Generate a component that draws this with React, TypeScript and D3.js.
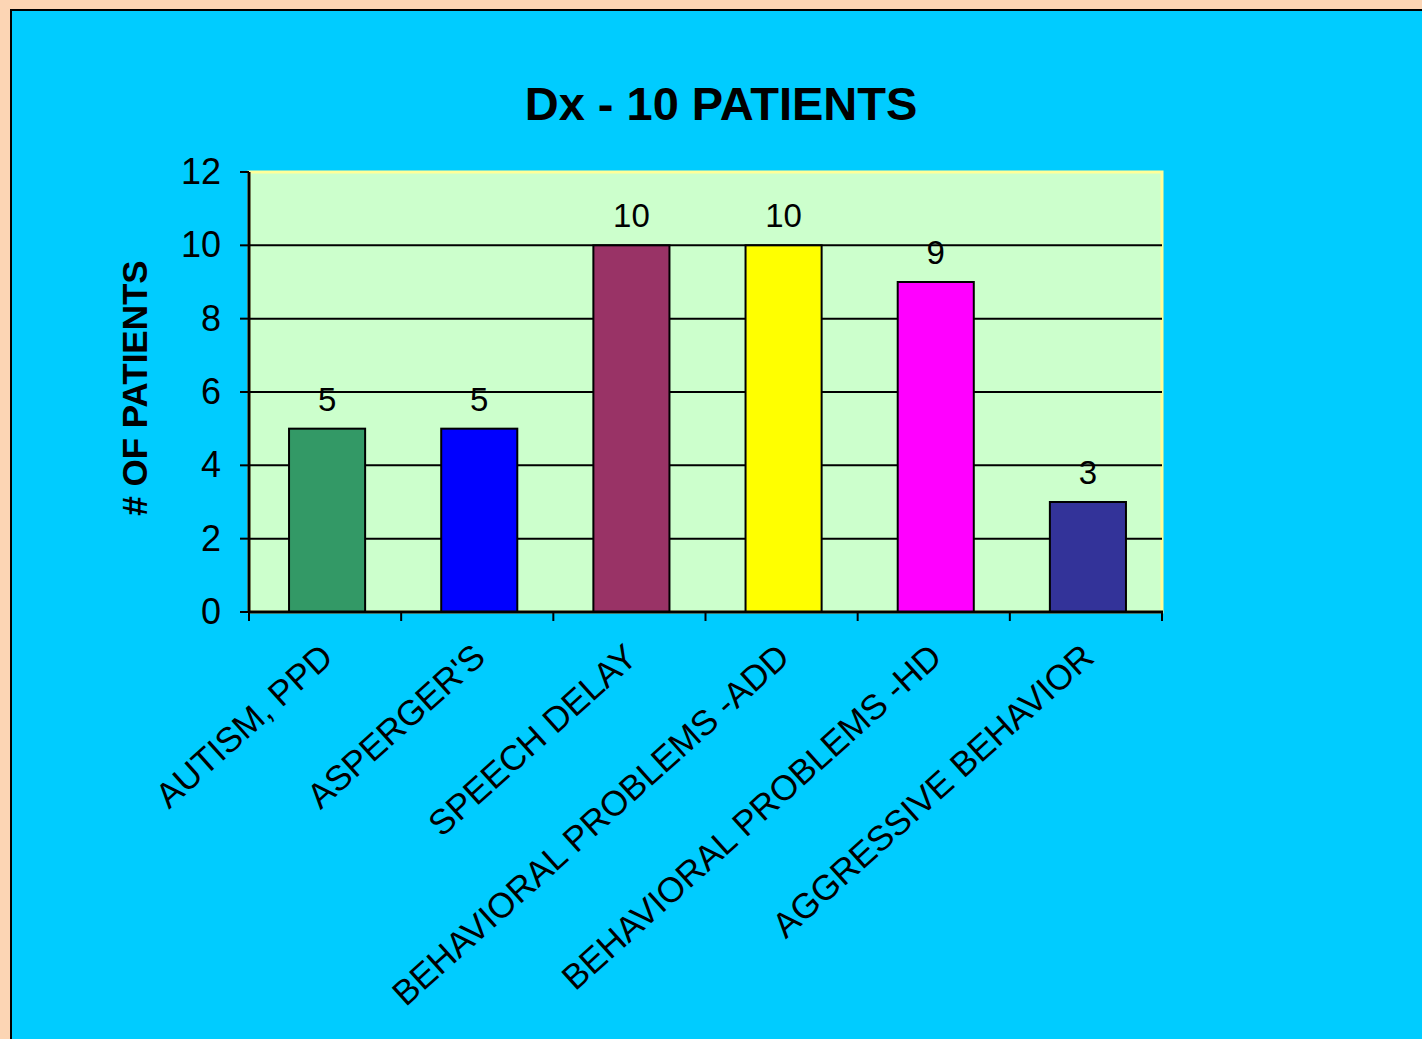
import React from 'react';
import * as d3 from 'd3';

// Chart data
const categories = [
  'AUTISM, PPD',
  "ASPERGER'S",
  'SPEECH DELAY',
  'BEHAVIORAL PROBLEMS -ADD',
  'BEHAVIORAL PROBLEMS -HD',
  'AGGRESSIVE BEHAVIOR',
];
const patientCounts = [5, 5, 10, 10, 9, 3];
const barColors = ['#339966', '#0000ff', '#993366', '#ffff00', '#ff00ff', '#333399'];
const yTicks = [0, 2, 4, 6, 8, 10, 12];

const W = 1422;
const H = 1039;
const plot = { left: 249, top: 172, right: 1162, bottom: 612 };

const App: React.FC = () => {
  const x = d3.scaleBand<string>()
    .domain(categories)
    .range([plot.left + 2, plot.right + 2])
    .paddingInner(0.5)
    .paddingOuter(0.25);

  const band = d3.scaleBand<string>()
    .domain(categories)
    .range([plot.left, plot.right]);

  const y = d3.scaleLinear()
    .domain([0, 12])
    .range([plot.bottom, plot.top]);

  const font = 'Arial, "Liberation Sans", Helvetica, sans-serif';
  const tickBounds = [...categories.map(c => band(c)!), plot.right];

  return (
    <svg
      width={W}
      height={H}
      style={{ position: 'absolute', left: 0, top: 0, display: 'block' }}
      fontFamily={font}
    >
      {/* page + panel background */}
      <rect x={0} y={0} width={W} height={H} fill="#fcd5b4" />
      <rect x={11} y={10} width={W} height={H} fill="#00ccff" stroke="#000" strokeWidth={2} />

      {/* title */}
      <text x={721} y={120} textAnchor="middle" fontSize={47} fontWeight="bold" fill="#000">
        Dx - 10 PATIENTS
      </text>

      {/* plot area */}
      <rect
        x={plot.left}
        y={plot.top}
        width={plot.right - plot.left}
        height={plot.bottom - plot.top}
        fill="#ccffcc"
        stroke="#ffff99"
        strokeWidth={3}
      />

      {/* gridlines */}
      {yTicks.filter(t => t > 0 && t < 12).map(t => (
        <line key={t} x1={plot.left} x2={plot.right} y1={y(t)} y2={y(t)} stroke="#000" strokeWidth={2} />
      ))}

      {/* bars */}
      {categories.map((c, i) => (
        <rect
          key={c}
          x={x(c)}
          y={y(patientCounts[i])}
          width={x.bandwidth()}
          height={y(0) - y(patientCounts[i])}
          fill={barColors[i]}
          stroke="#000"
          strokeWidth={2}
        />
      ))}

      {/* value labels */}
      {categories.map((c, i) => (
        <text
          key={c}
          x={x(c)! + x.bandwidth() / 2}
          y={y(patientCounts[i]) - 18}
          textAnchor="middle"
          fontSize={33}
          fill="#000"
        >
          {patientCounts[i]}
        </text>
      ))}

      {/* y axis */}
      <line x1={plot.left} x2={plot.left} y1={plot.top} y2={plot.bottom + 1} stroke="#000" strokeWidth={3} />
      {yTicks.map(t => (
        <g key={t}>
          <line x1={plot.left - 9} x2={plot.left} y1={y(t)} y2={y(t)} stroke="#000" strokeWidth={2} />
          <text x={221} y={y(t) + 12} textAnchor="end" fontSize={36} fill="#000">
            {t}
          </text>
        </g>
      ))}

      {/* x axis */}
      <line x1={plot.left - 1} x2={plot.right + 1} y1={plot.bottom} y2={plot.bottom} stroke="#000" strokeWidth={3} />
      {tickBounds.map((b, i) => (
        <line key={i} x1={b} x2={b} y1={plot.bottom} y2={plot.bottom + 9} stroke="#000" strokeWidth={2} />
      ))}
      {categories.map(c => {
        const cx = band(c)! + band.bandwidth() / 2 + 10;
        const cy = plot.bottom + 48;
        return (
          <text
            key={c}
            transform={`translate(${cx},${cy}) rotate(-42)`}
            textAnchor="end"
            fontSize={35}
            fill="#000"
          >
            {c}
          </text>
        );
      })}

      {/* y axis title */}
      <text
        transform={`translate(147,388) rotate(-90)`}
        textAnchor="middle"
        fontSize={35}
        fontWeight="bold"
        fill="#000"
      >
        # OF PATIENTS
      </text>
    </svg>
  );
};

export default App;
